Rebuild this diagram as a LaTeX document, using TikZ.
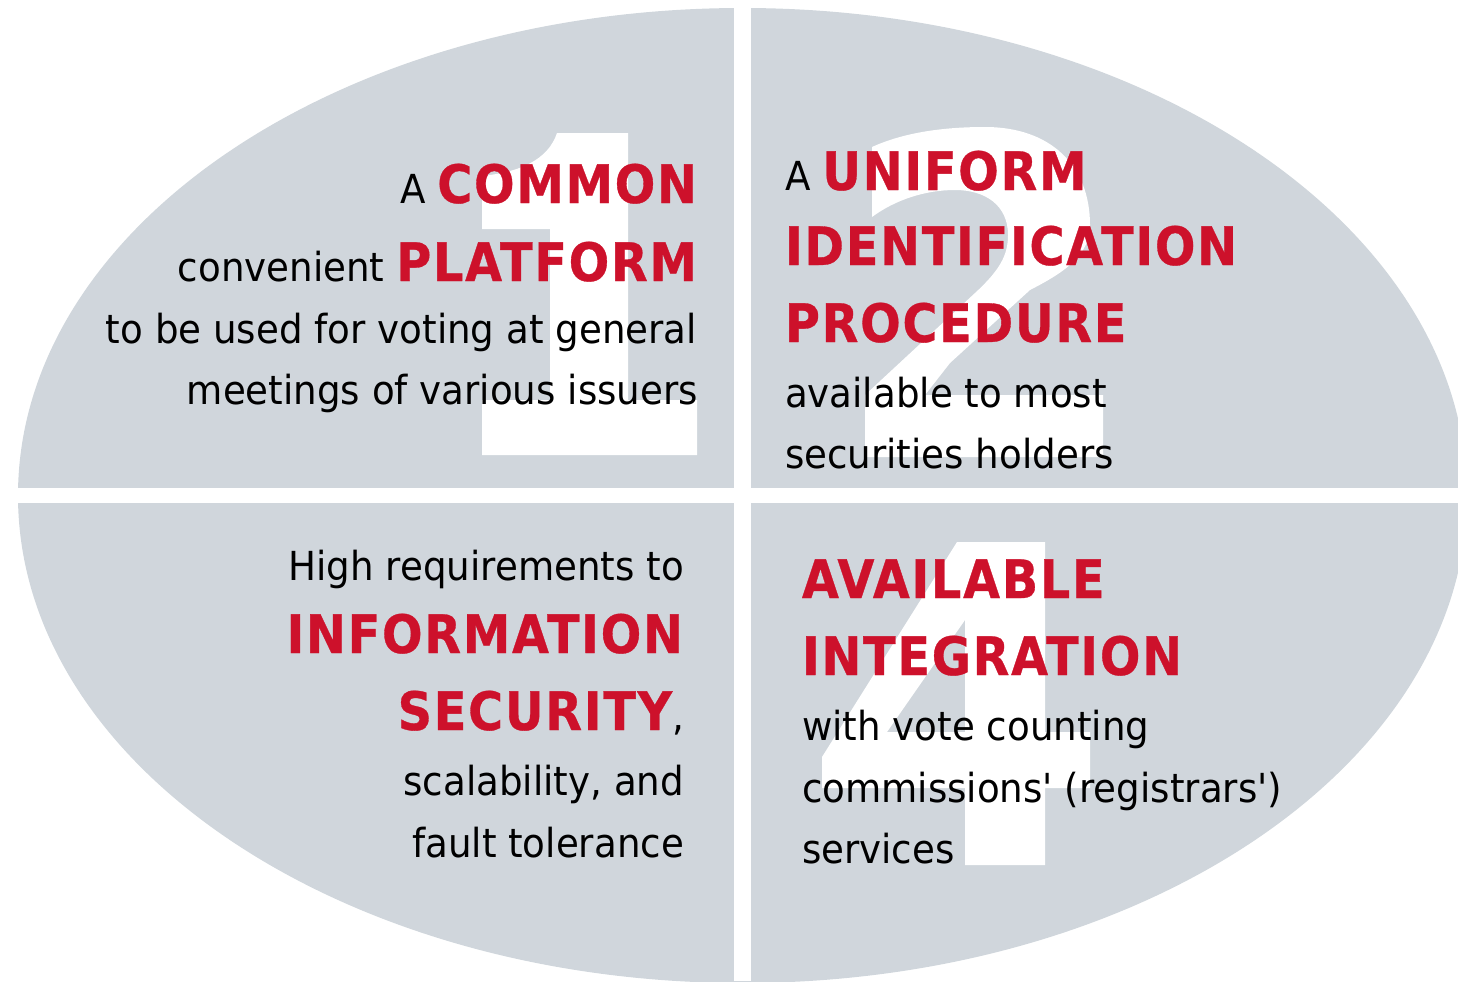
\documentclass[tikz,border=0pt]{standalone}
\usepackage{fontspec}
\newfontfamily\regf{DejaVu Sans}[FakeStretch=0.93,Ligatures=TeXOff]
\newfontfamily\boldf{DejaVu Sans}[FakeStretch=0.9,LetterSpace=3.3,FakeBold=0.6,Ligatures=TeXOff]
\definecolor{ellgray}{RGB}{208,214,220}
\definecolor{hlred}{RGB}{205,17,43}
\newcommand\normtxt{\regf\fontsize{40bp}{48bp}\selectfont}
\newcommand\hl[1]{{\boldf\bfseries\fontsize{53bp}{60bp}\selectfont\color{hlred}#1}}
\tikzset{
  lineR/.style={anchor=base east,inner sep=0pt,outer sep=0pt,font=\normtxt,text=black},
  lineL/.style={anchor=base west,inner sep=0pt,outer sep=0pt,font=\normtxt,text=black},
  digit/.style={fill=white,draw=none}
}
\begin{document}
\begin{tikzpicture}[x=1bp,y=-1bp]
\useasboundingbox (0,0) rectangle (1458,981);
\clip (0,0) rectangle (1458,981);
% ellipse
\fill[ellgray] (742.5,495.5) ellipse [x radius=724.5, y radius=487.5];
% gaps
\fill[white] (734,0) rectangle (751,981);
\fill[white] (0,488) rectangle (1458,503);
% digit 1
\fill[digit] (557,133) -- (628,133) -- (628,400) -- (697,400) -- (697,455) -- (482,455) -- (482,400) -- (550,400) -- (550,229) -- (482,229) -- (482,176) .. controls (520,172) and (548,160) .. (557,133) -- cycle;
% digit 2
\fill[digit] (872,147) .. controls (905,132) and (945,127) .. (985,127) .. controls (1050,127) and (1090,165) .. (1090,225) .. controls (1090,255) and (1065,272) .. (1030,290) -- (950,363) -- (925,395) -- (1103,395) -- (1103,457) -- (865,457) -- (865,395) -- (975,293) .. controls (1000,270) and (1008,255) .. (1008,235) .. controls (1008,205) and (985,190) .. (955,190) .. controls (925,190) and (895,200) .. (872,217) -- cycle;
% digit 4
\fill[digit,even odd rule] (957,542) -- (1045,542) -- (1045,732) -- (1090,732) -- (1090,788) -- (1045,788) -- (1045,865) -- (965,865) -- (965,788) -- (822,788) -- (822,757) -- cycle
  (887,732) -- (965,732) -- (965,620) -- cycle;
% quadrant 1
\node[lineR] (q1a) at (697,203) {A \hl{COMMON}};
\node[lineR] (q1b) at (697,281) {convenient \hl{PLATFORM}};
\node[lineR] (q1c) at (697,343) {to be used for voting at general};
\node[lineR] (q1d) at (698,404) {meetings of various issuers};
% quadrant 2
\node[lineL] (q2a) at (785,190) {A \hl{UNIFORM}};
\node[lineL] (q2b) at (785,265) {\hl{IDENTIFICATION}};
\node[lineL] (q2c) at (785,342) {\hl{PROCEDURE}};
\node[lineL] (q2d) at (785,407) {available to most};
\node[lineL] (q2e) at (785,468) {securities holders};
% quadrant 3
\node[lineR] (q3a) at (684,580) {High requirements to};
\node[lineR] (q3b) at (683,653) {\hl{INFORMATION}};
\node[lineR] (q3c) at (684,730) {\hl{SECURITY},};
\node[lineR] (q3d) at (684,795) {scalability, and};
\node[lineR] (q3e) at (684,857) {fault tolerance};
% quadrant 4
\node[lineL] (q4a) at (802,598) {\hl{AVAILABLE}};
\node[lineL] (q4b) at (802,675) {\hl{INTEGRATION}};
\node[lineL] (q4c) at (802,740) {with vote counting};
\node[lineL] (q4d) at (802,802) {commissions' (registrars')};
\node[lineL] (q4e) at (802,863) {services};
\end{tikzpicture}
\end{document}
